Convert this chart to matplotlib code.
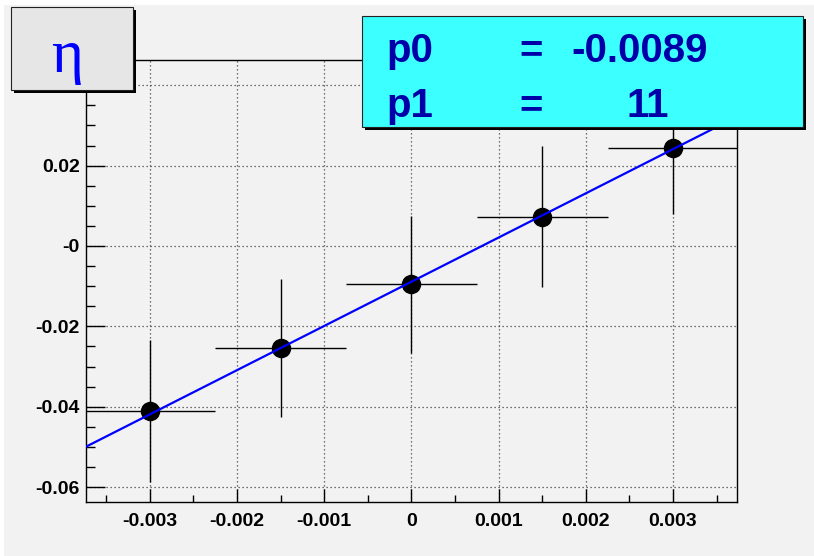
import matplotlib
matplotlib.use("Agg")
import matplotlib.pyplot as plt
from matplotlib.patches import Rectangle
import numpy as np

# measured points with their errors
x_vals = [-0.003, -0.0015, 0.0, 0.0015, 0.003]
y_vals = [-0.0410, -0.0253, -0.0095, 0.0073, 0.0245]
x_err = [0.00075, 0.00075, 0.00075, 0.00075, 0.00075]
y_err = [0.0176, 0.0172, 0.0170, 0.0176, 0.0165]

# straight line fit result
p0 = -0.0089
p1 = 11

x_ticks = [-0.003, -0.002, -0.001, 0.0, 0.001, 0.002, 0.003]
x_ticklabels = ["-0.003", "-0.002", "-0.001", "0", "0.001", "0.002", "0.003"]
y_ticks = [-0.06, -0.04, -0.02, 0.0, 0.02, 0.04]
y_ticklabels = ["-0.06", "-0.04", "-0.02", "-0", "0.02", "0.04"]

W, H = 814, 556
canvas = "#f2f2f2"
plt.rcParams["font.family"] = ["Liberation Sans", "DejaVu Sans"]


def fx(x):
    return x / W


def fy(y):
    return 1 - y / H


def box(fig, x0, y0, x1, y1, face, shadow=3):
    # drop shadow first, then the pave itself
    fig.add_artist(Rectangle((fx(x0 + shadow), fy(y1 + shadow)), (x1 - x0) / W, (y1 - y0) / H,
                             transform=fig.transFigure, facecolor="black", edgecolor="none", zorder=5))
    fig.add_artist(Rectangle((fx(x0), fy(y1)), (x1 - x0) / W, (y1 - y0) / H,
                             transform=fig.transFigure, facecolor=face, edgecolor="#222222",
                             linewidth=0.8, zorder=6))


fig = plt.figure(figsize=(W / 100, H / 100), dpi=100, facecolor="white")
fig.add_artist(Rectangle((fx(4), 0), 1 - fx(4), fy(5), transform=fig.transFigure,
                         facecolor=canvas, edgecolor="none", zorder=-10))

ax = fig.add_axes([fx(86), fy(502.3), (736.7 - 86) / W, (502.3 - 60) / H])
ax.set_facecolor(canvas)
ax.set_xlim(-0.00373, 0.00373)
ax.set_ylim(-0.06376, 0.04627)

ax.set_xticks(x_ticks)
ax.set_xticklabels(x_ticklabels)
ax.set_yticks(y_ticks)
ax.set_yticklabels(y_ticklabels)
ax.set_xticks(np.arange(-0.0035, 0.0036, 0.0005), minor=True)
ax.set_yticks(np.arange(-0.06, 0.046, 0.005), minor=True)

ax.tick_params(axis="x", which="major", direction="in", length=9.4, width=1, pad=8, labelsize=14)
ax.tick_params(axis="x", which="minor", direction="in", length=4.7, width=1)
ax.tick_params(axis="y", which="major", direction="in", length=13.7, width=1, pad=4.5, labelsize=14)
ax.tick_params(axis="y", which="minor", direction="in", length=6.8, width=1)
for lab in ax.get_xticklabels() + ax.get_yticklabels():
    lab.set_fontweight("bold")

ax.grid(True, which="major", color="#444444", linestyle=(0, (1, 2.2)), linewidth=0.9)
for side in ax.spines.values():
    side.set_linewidth(1.0)
    side.set_color("black")

ax.errorbar(x_vals, y_vals, xerr=x_err, yerr=y_err, fmt="o", color="black",
            markersize=13, elinewidth=1, capsize=0, zorder=3)

xf = np.array(ax.get_xlim())
ax.plot(xf, p0 + p1 * xf, color="#0000ff", linewidth=1.6, zorder=4)

# title pave
box(fig, 11, 7, 133, 90, "#e6e6e6")
fig.text(fx(67), fy(72), "\u03b7", family=["Liberation Serif", "DejaVu Serif"],
         fontsize=44, color="#0000ff", ha="center", va="baseline", zorder=7)

# fit parameter pave
box(fig, 361.7, 15.7, 802.7, 126.7, "#3cffff")
txt = dict(fontsize=29, fontweight="bold", color="#0000a8", va="baseline", zorder=7)
fig.text(fx(386), fy(62), "p0", ha="left", **txt)
fig.text(fx(519), fy(62), "=", ha="left", **txt)
fig.text(fx(640), fy(62), f"{p0:.4f}", ha="center", **txt)
fig.text(fx(386), fy(117), "p1", ha="left", **txt)
fig.text(fx(519), fy(117), "=", ha="left", **txt)
fig.text(fx(648), fy(117), f"{p1:d}", ha="center", **txt)

fig.savefig("out.png", dpi=100, facecolor="white")
